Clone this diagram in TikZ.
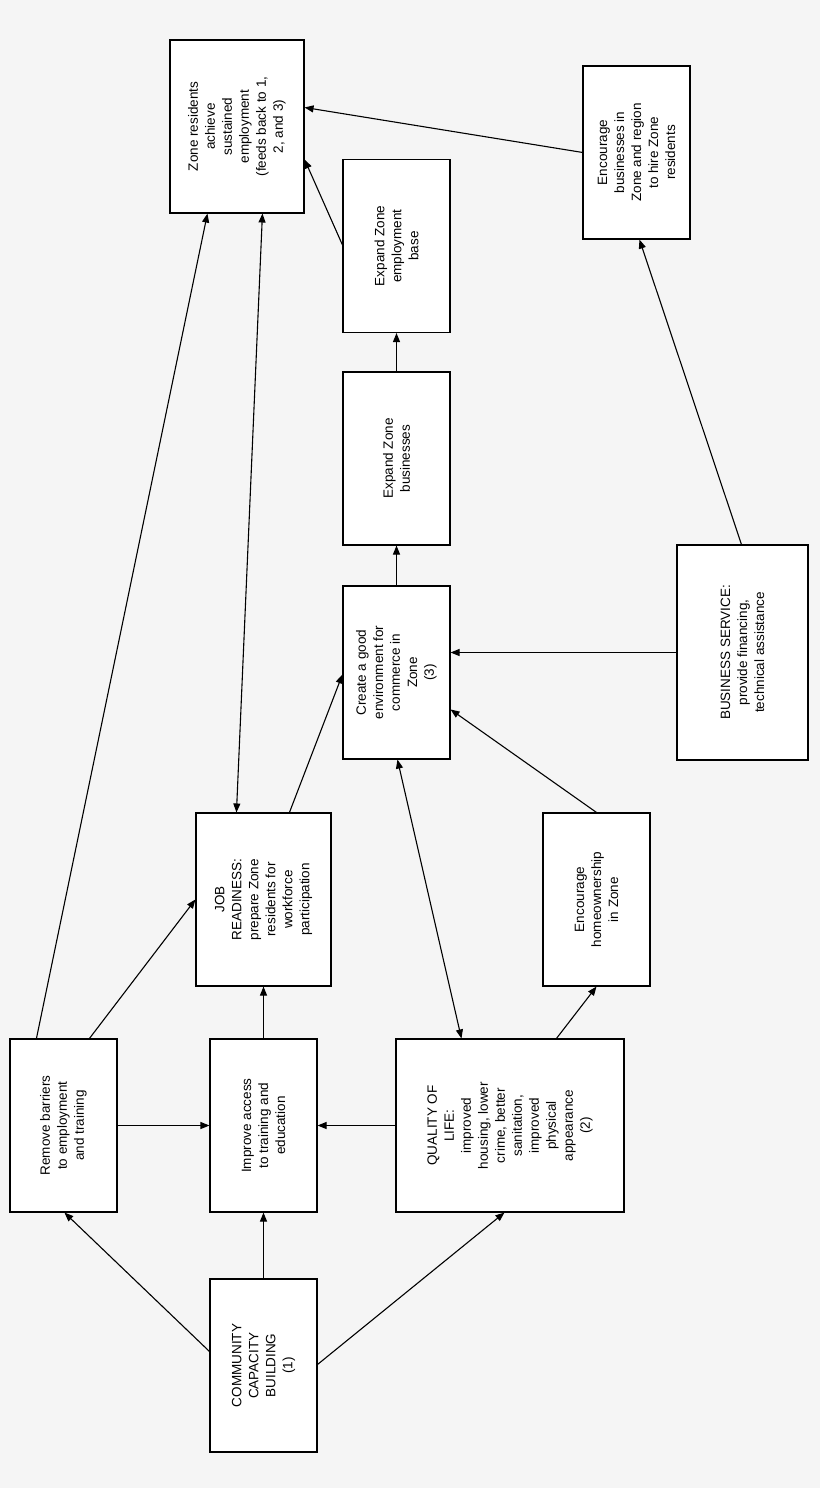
\documentclass[tikz,border=0pt]{standalone}
\usepackage{fontspec}
\setmainfont{Liberation Sans}
\usetikzlibrary{arrows.meta}
\begin{document}
\begin{tikzpicture}[x=1pt,y=-1pt,
  box/.style={draw,line width=1.1pt,fill=white,inner sep=0pt},
  lbl/.style={rotate=90,align=center,font=\fontsize{13.5}{17}\selectfont},
  arr/.style={line width=1.1pt,-{Triangle[length=9pt,width=7pt]}},
  arr2/.style={line width=1.1pt,{Triangle[length=9pt,width=7pt]}-{Triangle[length=9pt,width=7pt]}}]
\fill[color={rgb,255:red,245;green,245;blue,245}] (0,0) rectangle (820,1488);
\useasboundingbox (0,0) rectangle (820,1488);
\newcommand{\bx}[6]{\node[box,minimum width=#4pt,minimum height=#5pt] (#1) at (#2,#3) {};\node[lbl] at (#1) {#6};}
\bx{zone}{237}{126.5}{134}{173}{Zone residents\\achieve\\sustained\\employment\\(feeds back to 1,\\2, and 3)}
\bx{encb}{636.5}{152.5}{107}{173}{Encourage\\businesses in\\Zone and region\\to hire Zone\\residents}
\bx{expbase}{396.5}{246}{107}{173}{Expand Zone\\employment\\base}
\bx{expbus}{396.5}{458.5}{107}{173}{Expand Zone\\businesses}
\bx{create}{396.5}{672.5}{107}{173}{Create a good\\environment for\\commerce in\\Zone\\(3)}
\bx{bs}{742.5}{652.5}{131}{215}{BUSINESS SERVICE:\\provide financing,\\technical assistance}
\bx{job}{263.5}{899.5}{135}{173}{JOB\\READINESS:\\prepare Zone\\residents for\\workforce\\participation}
\bx{home}{596.5}{899.5}{107}{173}{Encourage\\homeownership\\in Zone}
\bx{rem}{63.5}{1125.5}{107}{173}{Remove barriers\\to employment\\and training}
\bx{imp}{263.5}{1125.5}{107}{173}{Improve access\\to training and\\education}
\bx{qol}{510}{1125.5}{228}{173}{QUALITY OF\\LIFE:\\improved\\housing, lower\\crime, better\\sanitation,\\improved\\physical\\appearance\\(2)}
\bx{ccb}{263.5}{1365.5}{107}{173}{COMMUNITY\\CAPACITY\\BUILDING\\(1)}
\draw[arr] ([yshift=-73pt]ccb.north west) -- ([xshift=55pt]rem.south west);
\draw[arr] (ccb.north) -- (imp.south);
\draw[arr] ([yshift=-86pt]ccb.north east) -- ([xshift=109pt]qol.south west);
\draw[arr] (rem.east) -- (imp.west);
\draw[arr] (qol.west) -- (imp.east);
\draw[arr] (imp.north) -- (job.south);
\draw[arr] ([xshift=80pt]rem.north west) -- ([yshift=-87pt]job.north west);
\draw[arr] ([xshift=27pt]rem.north west) -- ([xshift=38pt]zone.south west);
\draw[arr2] ([xshift=41pt]job.north west) -- ([xshift=93pt]zone.south west);
\draw[arr] ([xshift=94pt]job.north west) -- ([yshift=-89pt]create.north west);
\draw[arr2] ([xshift=66pt]qol.north west) -- ([xshift=55pt]create.south west);
\draw[arr] ([xshift=161pt]qol.north west) -- (home.south);
\draw[arr] (home.north) -- ([yshift=-124pt]create.north east);
\draw[arr] (bs.west) -- (create.east |- bs.west);
\draw[arr] ([xshift=65pt]bs.north west) -- ([xshift=57pt]encb.south west);
\draw[arr] (create.north) -- (expbus.south);
\draw[arr] (expbus.north) -- (expbase.south);
\draw[arr] ([yshift=-86pt]expbase.north west) -- ([yshift=-120pt]zone.north east);
\draw[arr] ([yshift=-87pt]encb.north west) -- ([yshift=-68pt]zone.north east);
\end{tikzpicture}
\end{document}
